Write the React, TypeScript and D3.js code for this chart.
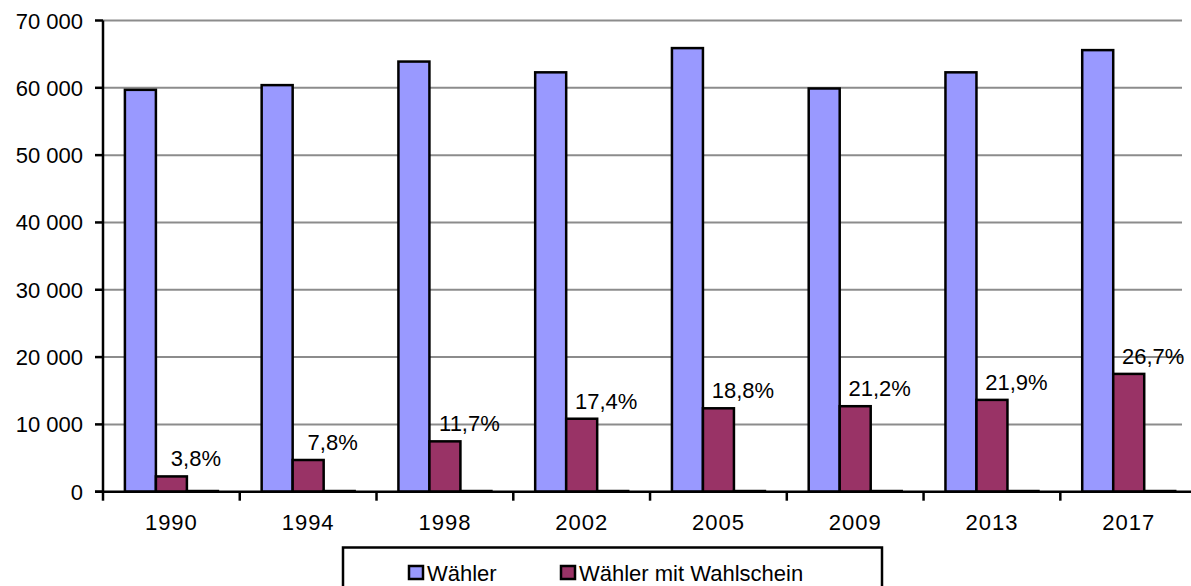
import React from "react";
import * as d3 from "d3";

const years = ["1990", "1994", "1998", "2002", "2005", "2009", "2013", "2017"];
const waehler = [59700, 60400, 63900, 62300, 65900, 59900, 62300, 65600];
const waehlerWahlschein = [2270, 4710, 7480, 10840, 12390, 12700, 13640, 17500];
const sonstige = [100, 100, 100, 100, 100, 100, 100, 100];
const anteil = [3.8, 7.8, 11.7, 17.4, 18.8, 21.2, 21.9, 26.7];
const yTicks = [0, 10000, 20000, 30000, 40000, 50000, 60000, 70000];
const seriesNames = ["Wähler", "Wähler mit Wahlschein"];
const seriesColors = ["#9999FF", "#993366", "#FFFFCC"];

const W = 1191;
const H = 586;
const X0 = 103;
const STEP = 136.76;
const Y0 = 491.7;
const Y1 = 20.5;
const FONT = "'Liberation Sans', Arial, sans-serif";

export default function App() {
  const x = d3
    .scaleBand<string>()
    .domain(years)
    .range([X0, X0 + STEP * years.length])
    .paddingInner(0)
    .paddingOuter(0);
  const inner = d3
    .scaleBand<number>()
    .domain([0, 1, 2])
    .range([21.9, 21.9 + 93])
    .padding(0);
  const y = d3.scaleLinear().domain([0, 70000]).range([Y0, Y1]);
  const fmtY = (v: number) => d3.format(",")(v).replace(/,/g, " ");
  const fmtPct = (v: number) => d3.format(".1f")(v).replace(".", ",") + "%";

  const series = [waehler, waehlerWahlschein, sonstige];
  const gridRight = 1182;

  return (
    <svg
      width={W}
      height={H}
      style={{ position: "absolute", left: 0, top: 0, background: "#fff" }}
      fontFamily={FONT}
    >
      <rect x={0} y={0} width={W} height={H} fill="#fff" />
      {/* gridlines */}
      {yTicks.filter((t) => t > 0).map((t) => (
        <line key={"g" + t} x1={X0} x2={gridRight} y1={y(t)} y2={y(t)} stroke="#8c8c8c" strokeWidth={2} />
      ))}
      {/* y labels and ticks */}
      {yTicks.map((t) => (
        <g key={"y" + t}>
          <line x1={95} x2={X0} y1={y(t)} y2={y(t)} stroke="#000" strokeWidth={2.5} />
          <text x={83} y={y(t) + 8} fontSize={22} textAnchor="end" fill="#000">
            {fmtY(t)}
          </text>
        </g>
      ))}
      {/* bars */}
      {years.map((yr, i) => (
        <g key={"b" + yr}>
          {series.map((s, k) => {
            const bx = (x(yr) as number) + (inner(k) as number);
            const top = y(s[i]);
            return (
              <rect
                key={k}
                x={bx}
                y={top}
                width={inner.bandwidth()}
                height={Y0 - top}
                fill={seriesColors[k]}
                stroke="#000"
                strokeWidth={2.5}
              />
            );
          })}
        </g>
      ))}
      {/* percent labels */}
      {years.map((yr, i) => {
        const cx = (x(yr) as number) + (inner(2) as number) + 9;
        return (
          <text key={"p" + yr} x={cx} y={y(waehlerWahlschein[i]) - 10} fontSize={22} textAnchor="middle" fill="#000">
            {fmtPct(anteil[i])}
          </text>
        );
      })}
      {/* axes */}
      <line x1={X0} x2={X0} y1={Y1} y2={Y0 + 1} stroke="#000" strokeWidth={2.5} />
      <line x1={X0 - 8} x2={W} y1={Y0} y2={Y0} stroke="#000" strokeWidth={2.5} />
      {years.map((yr) => (
        <line key={"t" + yr} x1={x(yr) as number} x2={x(yr) as number} y1={Y0} y2={Y0 + 9} stroke="#000" strokeWidth={2.5} />
      ))}
      {years.map((yr) => (
        <text
          key={"l" + yr}
          x={(x(yr) as number) + x.bandwidth() / 2}
          y={529.5}
          fontSize={22}
          textAnchor="middle"
          letterSpacing={1}
          fill="#000"
        >
          {yr}
        </text>
      ))}
      {/* legend */}
      <rect x={343} y={547.5} width={539} height={60} fill="#fff" stroke="#000" strokeWidth={2.5} />
      {seriesNames.map((n, k) => {
        const lx = k === 0 ? 409 : 561;
        return (
          <g key={"lg" + k}>
            <rect x={lx} y={566} width={14} height={13} fill={seriesColors[k]} stroke="#000" strokeWidth={2.5} />
            <text x={lx + 18} y={580.5} fontSize={22} fill="#000">
              {n}
            </text>
          </g>
        );
      })}
    </svg>
  );
}
